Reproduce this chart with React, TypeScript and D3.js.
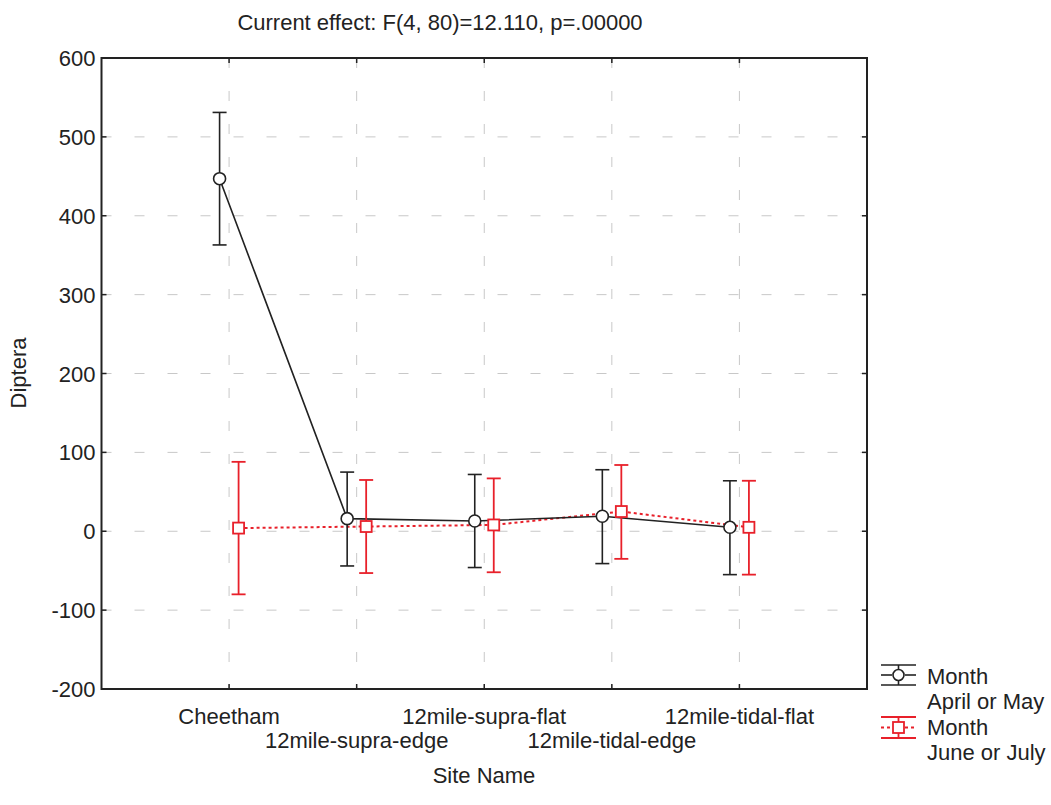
import React from "react";
import * as d3 from "d3";

const categories = ["Cheetham", "12mile-supra-edge", "12mile-supra-flat", "12mile-tidal-edge", "12mile-tidal-flat"];
const aprilMean = [447, 16, 13, 19, 5];
const aprilLow = [363, -44, -46, -41, -55];
const aprilHigh = [531, 75, 72, 78, 64];
const juneMean = [4, 6, 8, 25, 5];
const juneLow = [-80, -53, -52, -35, -55];
const juneHigh = [88, 65, 67, 84, 64];
const yTicks = [-200, -100, 0, 100, 200, 300, 400, 500, 600];

const W = 1051, H = 805;
const left = 101.5, right = 867, top = 58, bottom = 689;
const font = "'Liberation Sans', Arial, sans-serif";
const fs = 22;

export default function App() {
  const x = d3.scaleLinear().domain([0, 6]).range([left, right]);
  const y = d3.scaleLinear().domain([-200, 600]).range([bottom, top]);
  const off = 9.5;
  const cap = 7;
  const line = d3.line<[number, number]>().x(d => d[0]).y(d => d[1]);
  const blackPts: [number, number][] = aprilMean.map((v, i) => [x(i + 1) - off, y(v)]);
  const redPts: [number, number][] = juneMean.map((v, i) => [x(i + 1) + off, y(v)]);
  const grid = "#c8c8c8";
  return (
    <svg width={W} height={H} style={{ position: "absolute", left: 0, top: 0, background: "#fff" }}>
      <text x={440} y={30} fontFamily={font} fontSize={fs} textAnchor="middle" fill="#222">Current effect: F(4, 80)=12.110, p=.00000</text>
      {/* grid */}
      {yTicks.slice(1, -1).map(t => (
        <line key={"gy" + t} x1={left} x2={right} y1={y(t)} y2={y(t)} stroke={grid} strokeWidth={1} strokeDasharray="10,23" />
      ))}
      {categories.map((c, i) => (
        <line key={"gx" + c} x1={x(i + 1)} x2={x(i + 1)} y1={top} y2={bottom} stroke={grid} strokeWidth={1} strokeDasharray="10,23" />
      ))}
      {/* ticks */}
      {yTicks.map(t => (
        <g key={"yt" + t}>
          <line x1={left} x2={left + 5} y1={y(t)} y2={y(t)} stroke="#222" strokeWidth={1.5} />
          <line x1={right} x2={right - 5} y1={y(t)} y2={y(t)} stroke="#222" strokeWidth={1.5} />
          <text x={left - 6} y={y(t) + 8} fontFamily={font} fontSize={fs} textAnchor="end" fill="#222">{t}</text>
        </g>
      ))}
      {categories.map((c, i) => (
        <g key={"xt" + c}>
          <line x1={x(i + 1)} x2={x(i + 1)} y1={bottom} y2={bottom - 5} stroke="#222" strokeWidth={1.5} />
          <line x1={x(i + 1)} x2={x(i + 1)} y1={top} y2={top + 5} stroke="#222" strokeWidth={1.5} />
          <text x={x(i + 1)} y={i % 2 === 0 ? 724 : 748} fontFamily={font} fontSize={fs} textAnchor="middle" fill="#222">{c}</text>
        </g>
      ))}
      <rect x={left} y={top} width={right - left} height={bottom - top} fill="none" stroke="#222" strokeWidth={2} />
      <text x={484} y={783} fontFamily={font} fontSize={fs} textAnchor="middle" fill="#222">Site Name</text>
      <text transform={`translate(26,${373}) rotate(-90)`} fontFamily={font} fontSize={fs} textAnchor="middle" fill="#222">Diptera</text>
      {/* lines */}
      <path d={line(redPts) || ""} fill="none" stroke="#e8202a" strokeWidth={2} strokeDasharray="3,3" />
      <path d={line(blackPts) || ""} fill="none" stroke="#222" strokeWidth={1.6} />
      {/* error bars black */}
      {aprilMean.map((v, i) => {
        const cx = x(i + 1) - off;
        return (
          <g key={"eb" + i} stroke="#222" strokeWidth={1.6}>
            <line x1={cx} x2={cx} y1={y(aprilLow[i])} y2={y(aprilHigh[i])} />
            <line x1={cx - cap} x2={cx + cap} y1={y(aprilLow[i])} y2={y(aprilLow[i])} />
            <line x1={cx - cap} x2={cx + cap} y1={y(aprilHigh[i])} y2={y(aprilHigh[i])} />
            <circle cx={cx} cy={y(v)} r={6} fill="#fff" />
          </g>
        );
      })}
      {juneMean.map((v, i) => {
        const cx = x(i + 1) + off;
        return (
          <g key={"er" + i} stroke="#e8202a" strokeWidth={1.8}>
            <line x1={cx} x2={cx} y1={y(juneLow[i])} y2={y(juneHigh[i])} />
            <line x1={cx - cap} x2={cx + cap} y1={y(juneLow[i])} y2={y(juneLow[i])} />
            <line x1={cx - cap} x2={cx + cap} y1={y(juneHigh[i])} y2={y(juneHigh[i])} />
            <rect x={cx - 5.5} y={y(v) - 5.5} width={11} height={11} fill="#fff" />
          </g>
        );
      })}
      {/* legend */}
      <g>
        <g stroke="#222" strokeWidth={1.6}>
          <line x1={881} x2={916} y1={665} y2={665} />
          <line x1={881} x2={916} y1={685} y2={685} />
          <line x1={881} x2={892} y1={675} y2={675} />
          <line x1={905} x2={916} y1={675} y2={675} />
          <line x1={898.5} x2={898.5} y1={665} y2={685} />
          <circle cx={898.5} cy={675} r={5.5} fill="#fff" />
        </g>
        <text x={927} y={684} fontFamily={font} fontSize={fs} fill="#222">Month</text>
        <text x={927} y={709} fontFamily={font} fontSize={fs} fill="#222">April or May</text>
        <g stroke="#e8202a" strokeWidth={1.8}>
          <line x1={881} x2={916} y1={717} y2={717} />
          <line x1={881} x2={916} y1={738} y2={738} />
          <line x1={881} x2={892} y1={727.5} y2={727.5} strokeDasharray="3,3" />
          <line x1={905} x2={916} y1={727.5} y2={727.5} strokeDasharray="3,3" />
          <line x1={898.5} x2={898.5} y1={717} y2={738} />
          <rect x={893} y={722} width={11} height={11} fill="#fff" />
        </g>
        <text x={927} y={735} fontFamily={font} fontSize={fs} fill="#222">Month</text>
        <text x={927} y={760} fontFamily={font} fontSize={fs} fill="#222">June or July</text>
      </g>
    </svg>
  );
}
